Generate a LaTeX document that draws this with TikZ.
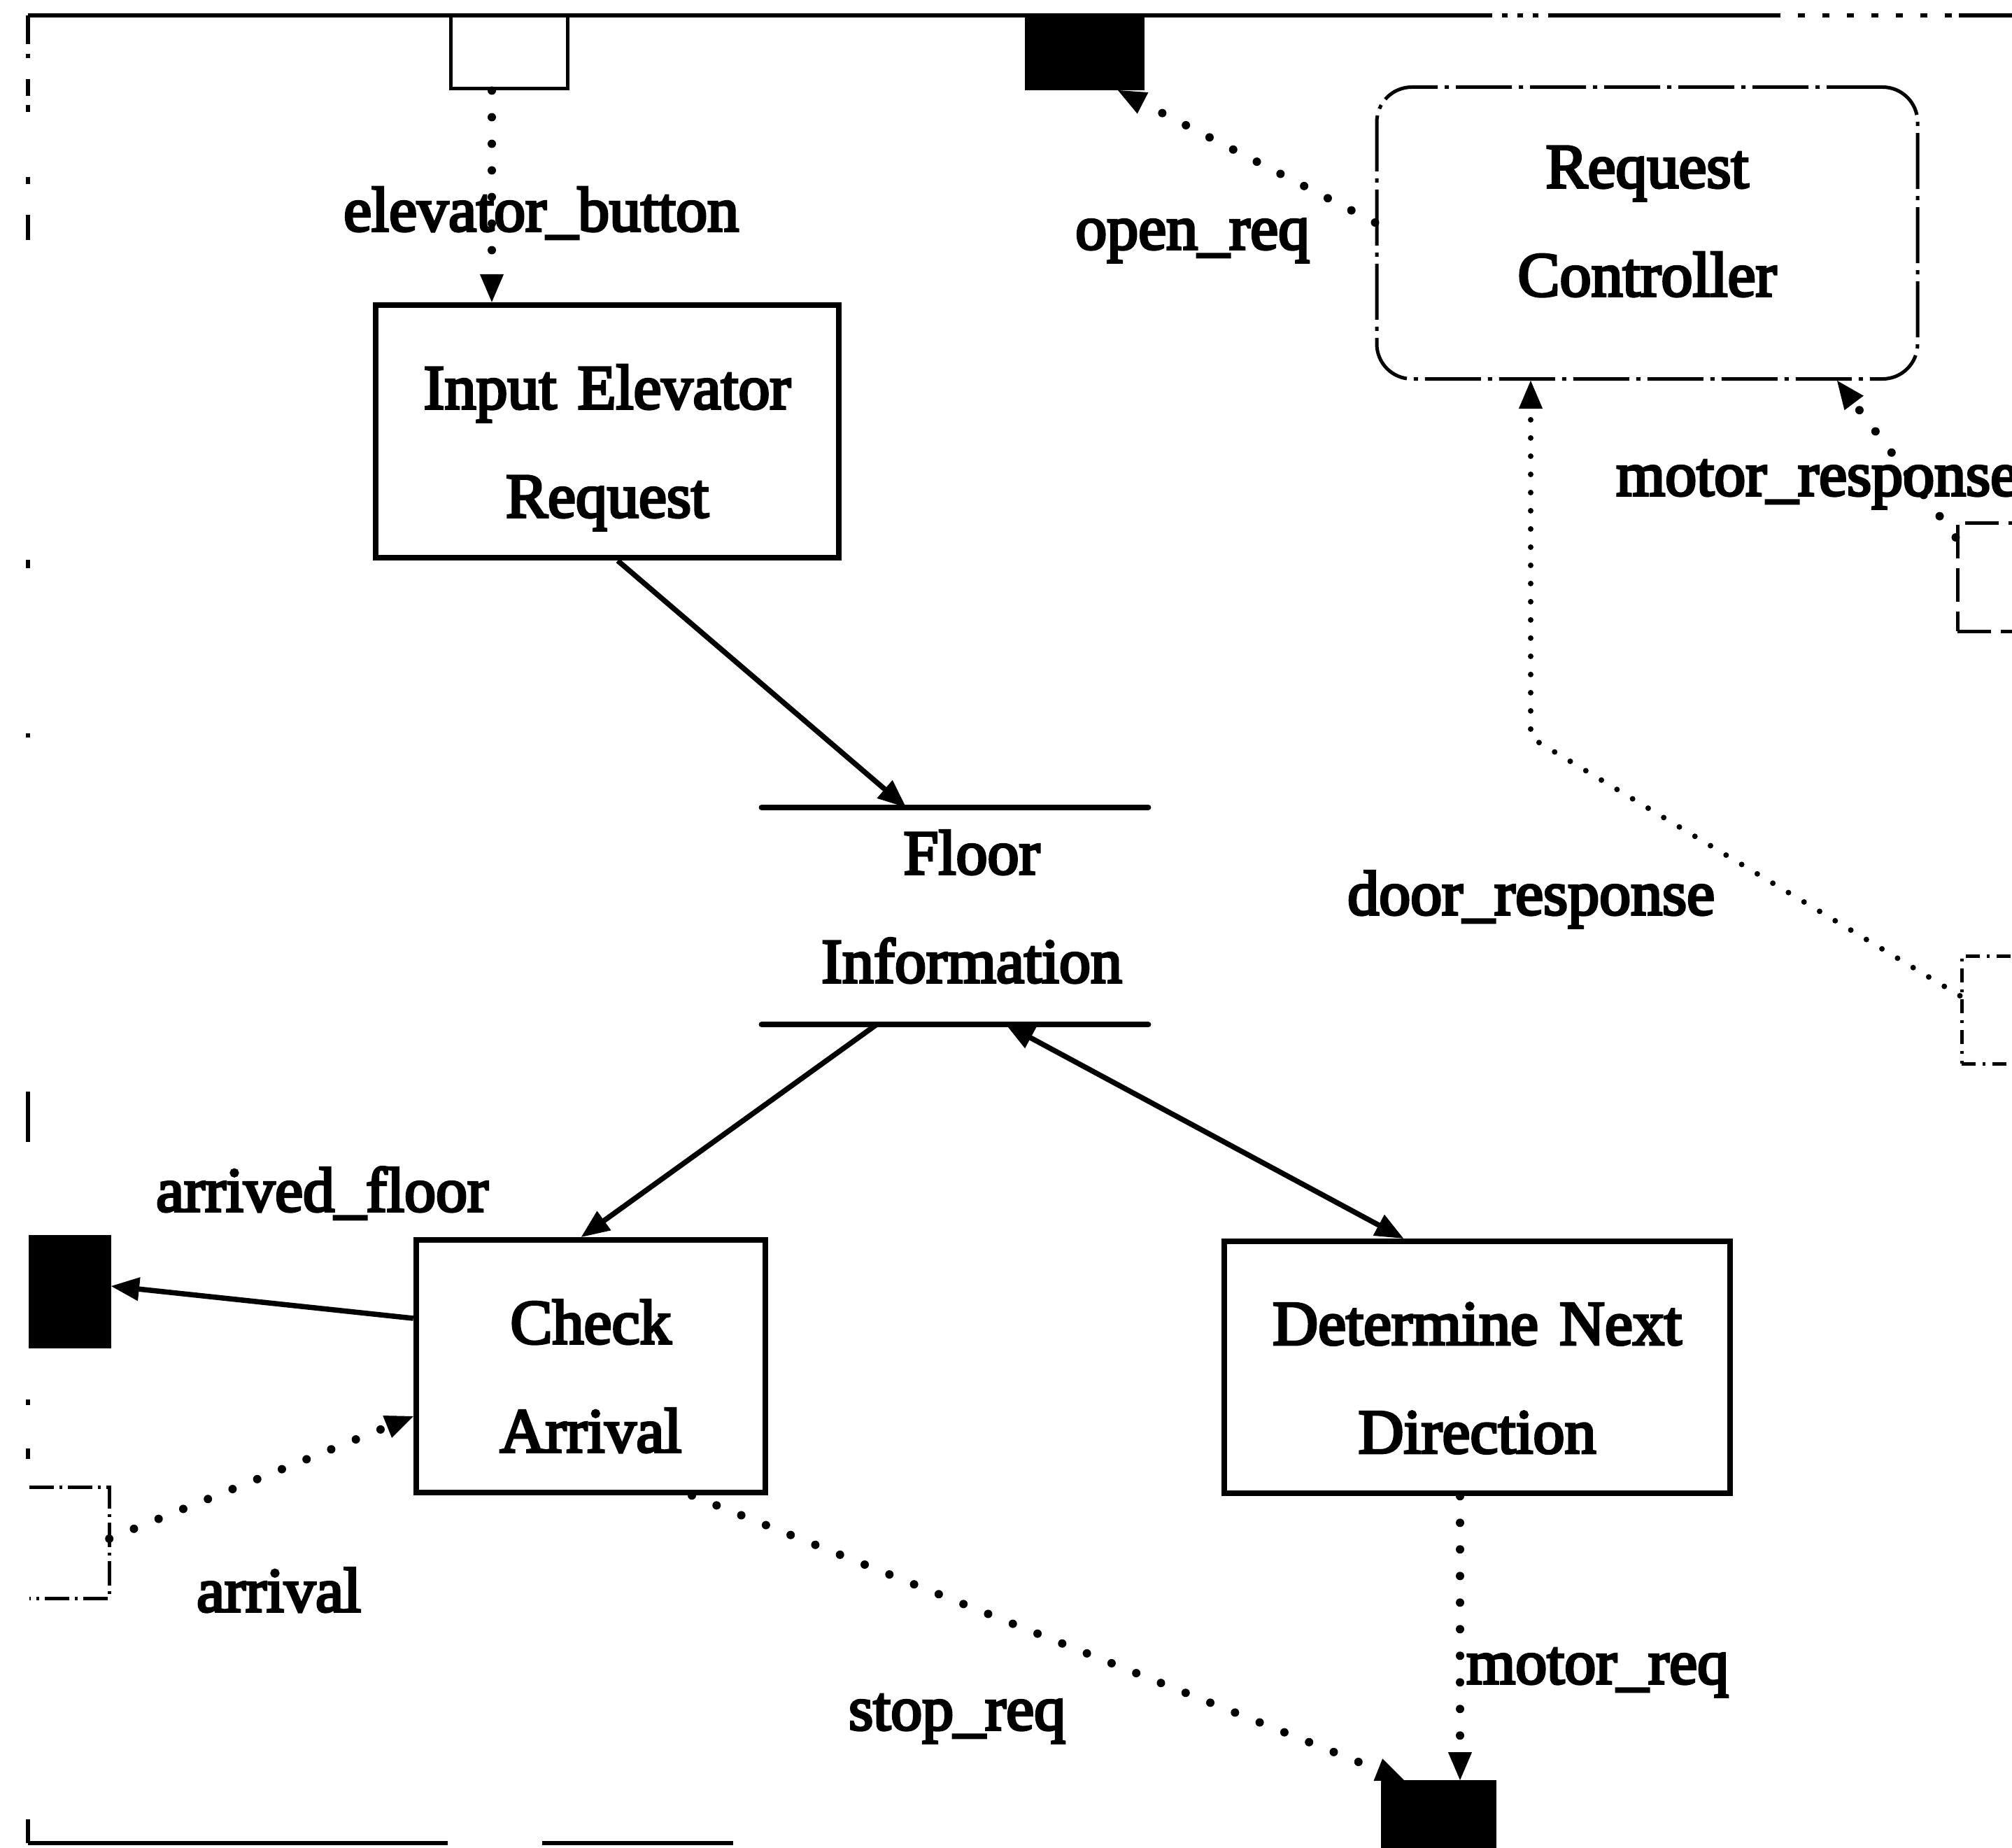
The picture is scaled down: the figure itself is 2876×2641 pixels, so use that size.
\documentclass[tikz,border=0pt]{standalone}
\usepackage{fontspec}
\setmainfont{Liberation Serif}[FakeBold=4]
\usetikzlibrary{arrows.meta}
\begin{document}
\begin{tikzpicture}[x=1pt,y=-1pt,
  >={Triangle[length=40pt,width=34pt,line width=1pt]},
  txt/.style={font=\fontsize{90}{155}\selectfont, inner sep=0pt},
  lbl/.style={txt, anchor=base west},
  procbox/.style={draw, line width=8.5pt, inner sep=0pt, align=center,
    text height=70pt, text depth=135pt, font=\fontsize{90}{155}\selectfont},
  rcbox/.style={draw, line width=5pt, rounded corners=50pt, inner sep=0pt,
    align=center, text height=70pt, text depth=200pt,
    font=\fontsize{90}{155}\selectfont,
    dash pattern=on 80pt off 10pt on 6pt off 10pt},
  extbox/.style={draw, line width=5pt, inner sep=0pt},
  sink/.style={draw, fill=black, line width=2pt, inner sep=0pt},
  storebox/.style={inner sep=0pt},
  storeline/.style={line width=8.5pt, line cap=round},
  dashbox/.style={draw, line width=5pt, inner sep=0pt, dash pattern=on 48pt off 14pt},
  dashdotbox/.style={draw, line width=5pt, inner sep=0pt,
    dash pattern=on 20pt off 10pt on 4pt off 10pt},
  framestyle/.style={line width=5.5pt},
  flow/.style={line width=7.5pt, ->},
  sig/.style={line width=12pt, line cap=round, dash pattern=on 0pt off 38pt, ->},
  sigfine/.style={line width=8pt, line cap=round, dash pattern=on 0pt off 26pt, ->}
]
\path[use as bounding box] (0,0) rectangle (2876,2641);

% outer context frame
\draw[framestyle] (40,22) -- (2125,22) (2215,22) -- (2535,22) (2800,22) -- (2876,22);
\draw[framestyle, dash pattern=on 8pt off 14pt] (2125,22) -- (2215,22);
\draw[framestyle, dash pattern=on 10pt off 25pt] (2535,22) -- (2800,22);
\draw[framestyle] (40,2634) -- (640,2634) (775,2634) -- (1048,2634);
\foreach \a/\b in {22/63, 77/83, 113/137, 150/160, 253/263, 307/343, 800/812,
                   1048/1054, 1560/1632, 2000/2008, 2070/2085, 2600/2634}
  \draw[framestyle] (40,\a) -- (40,\b);

% terminators, processes and store
\node[extbox, minimum width=167pt, minimum height=105pt] (src) at (727.5,74.5) {};
\node[sink, minimum width=169pt, minimum height=106pt] (odoor) at (1550.5,75) {};
\node[rcbox, minimum width=773pt, minimum height=417pt, text width=700pt] (rc)
  at (2354.5,333) {Request\\Controller};
\node[procbox, minimum width=662pt, minimum height=361pt, text width=640pt] (ier)
  at (868,616.5) {Input Elevator\\Request};
\node[storebox, minimum width=552pt, minimum height=310pt] (fi) at (1365,1309) {};
\draw[storeline] (fi.north west) -- (fi.north east) (fi.south west) -- (fi.south east);
\node[txt, text width=560pt, align=center, text height=70pt, text depth=135pt] (fitext)
  at (1389,1281.5) {Floor\\Information};
\node[procbox, minimum width=499pt, minimum height=361pt, text width=480pt] (ca)
  at (844.5,1952.5) {Check\\Arrival};
\node[procbox, minimum width=723pt, minimum height=360pt, text width=700pt] (dn)
  at (2111.5,1954) {Determine Next\\Direction};
\node[sink, minimum width=116pt, minimum height=160pt] (afl) at (100,1846) {};
\node[inner sep=0pt, minimum width=114pt, minimum height=158pt] (arr) at (99,2205) {};
\draw[line width=5pt, dash pattern=on 35pt off 8pt on 4pt off 8pt]
  (arr.north west) -- (arr.north east) -- (arr.south east) -- (arr.south west);
\node[sink, minimum width=163pt, minimum height=120pt] (motor) at (2056.5,2605) {};
\node[dashbox, minimum width=200pt, minimum height=155pt] (mrb) at (2898,824.5) {};
\node[dashdotbox, minimum width=200pt, minimum height=154pt] (drb) at (2904,1443) {};

% flows
\draw[sig] ([xshift=-24.5pt]src.south) -- ([xshift=-165pt]ier.north);
\draw[flow] ([xshift=15pt]ier.south) -- ([xshift=-70pt]fi.north);
\draw[flow] ([xshift=-112pt]fi.south) -- ([xshift=-13.5pt]ca.north);
\draw[flow, <->] ([xshift=73pt]fi.south) -- ([xshift=-105.5pt]dn.north);
\draw[flow] ([yshift=68.5pt]ca.west) -- ([yshift=8pt]afl.east);
\draw[sig] ([yshift=6pt]arr.east) -- ([yshift=-71.5pt]ca.west);
\draw[sig] ([xshift=144.5pt]ca.south) -- ([xshift=-49.5pt]motor.north);
\draw[sig] ([xshift=-24.5pt]dn.south) -- ([xshift=30.5pt]motor.north);
\draw[sig] ([yshift=15pt]rc.west) -- ([xshift=47.5pt]odoor.south);
\draw[sig] ([yshift=56.5pt]mrb.west) -- ([xshift=271.5pt]rc.south);
\coordinate (bend) at (2188,1054);
\draw[sigfine] ([yshift=20pt]drb.west) -- (bend) -- ([xshift=-166.5pt]rc.south);

% flow names
\node[lbl] (l-eb) at (491,330) {elevator\_button};
\node[lbl] (l-or) at (1537,356) {open\_req};
\node[lbl] (l-mr) at (2310,708) {motor\_response};
\node[lbl] (l-dr) at (1926,1307) {door\_response};
\node[lbl] (l-af) at (223,1731) {arrived\_floor};
\node[lbl] (l-ar) at (281,2303) {arrival};
\node[lbl] (l-sr) at (1213,2472) {stop\_req};
\node[lbl] (l-mq) at (2096,2406) {motor\_req};
\end{tikzpicture}
\end{document}
